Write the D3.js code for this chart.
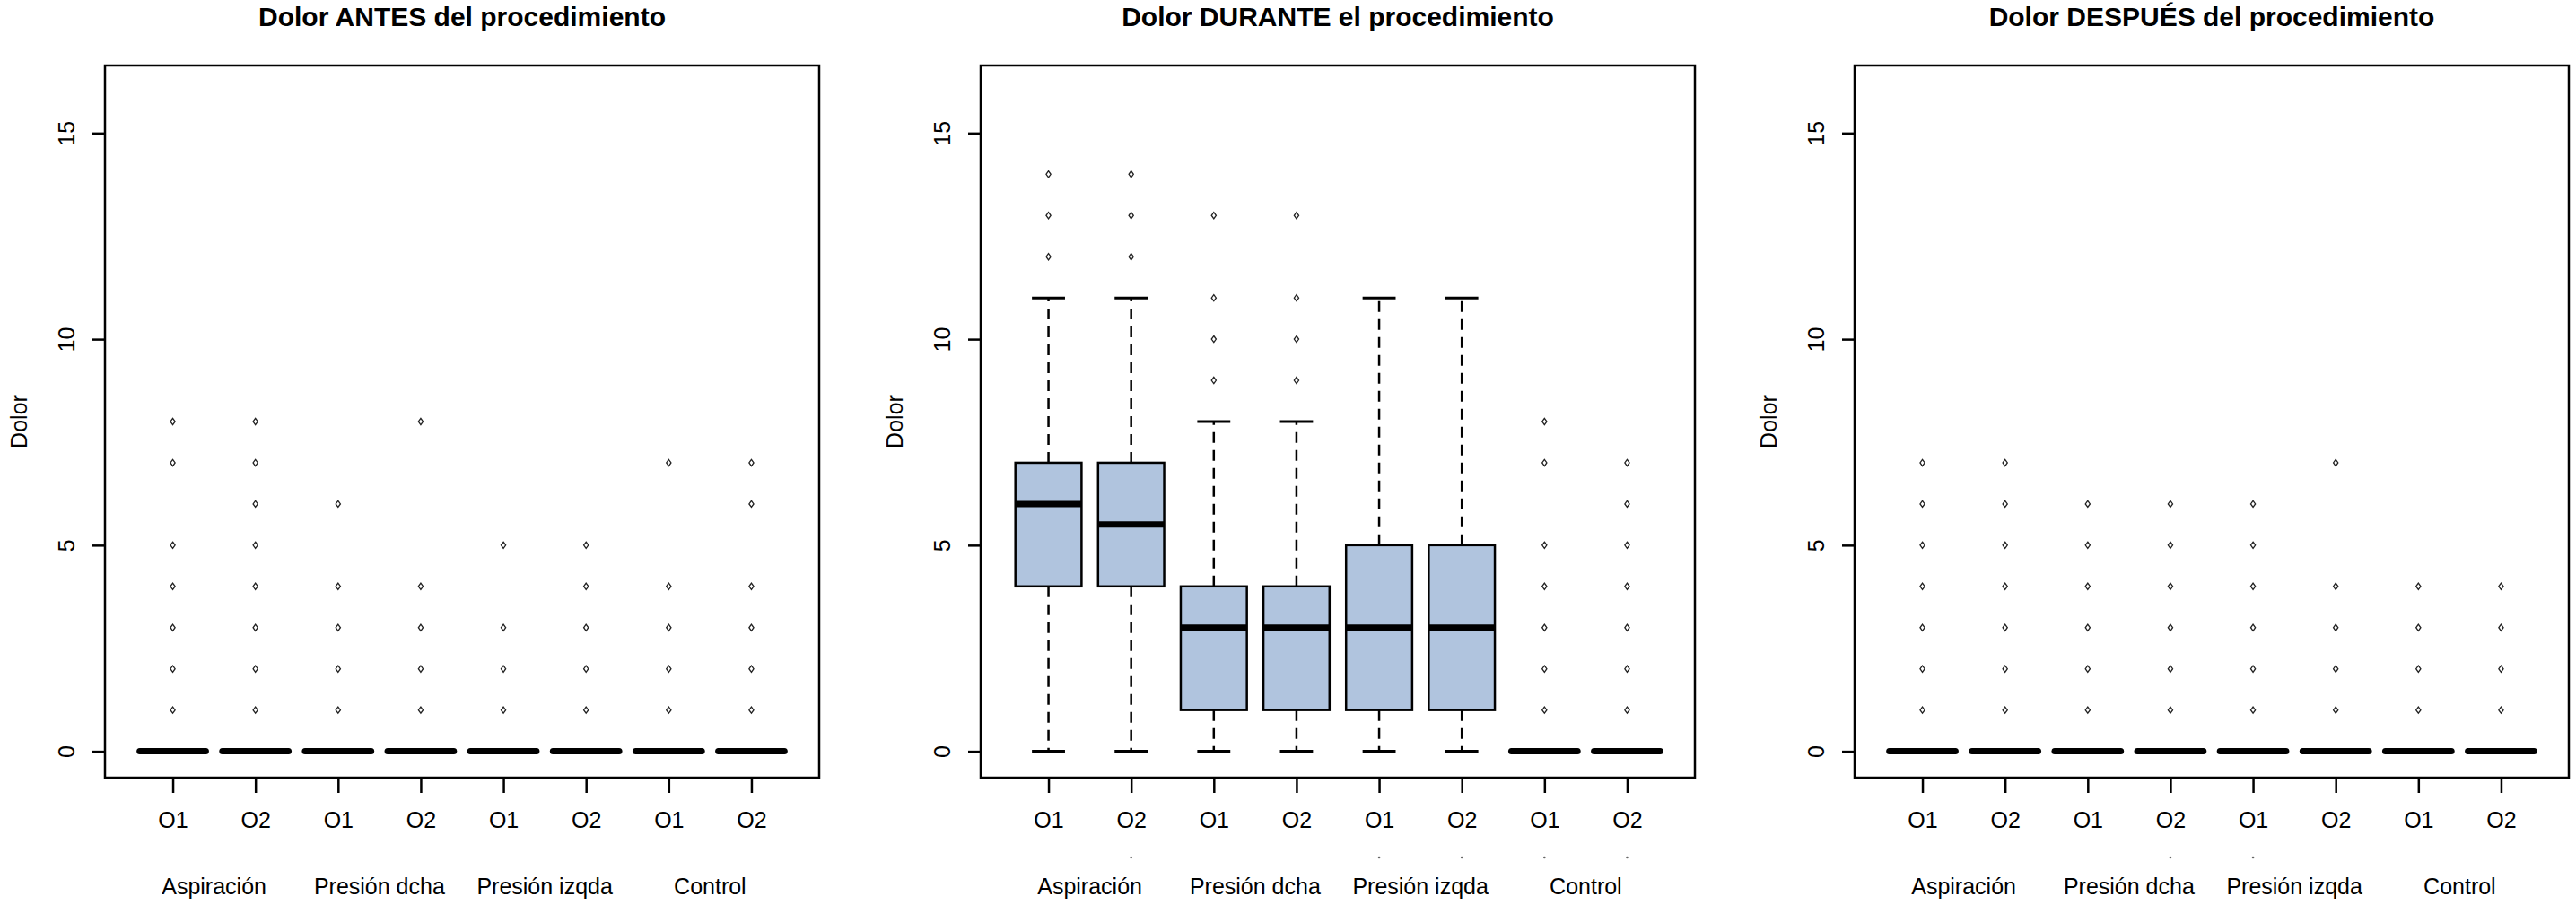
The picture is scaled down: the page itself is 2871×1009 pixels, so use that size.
<!DOCTYPE html>
<html>
<head>
<meta charset="utf-8">
<script src="https://cdn.jsdelivr.net/npm/d3@7"></script>
<style>
  body { margin: 0; background: #fff; }
  text { font-family: "Liberation Sans", Arial, sans-serif; fill: #000; }
</style>
</head>
<body>
<script>
// ---- data ----
var categories = ["O1", "O2", "O1", "O2", "O1", "O2", "O1", "O2"];
var groups = ["Aspiración", "Presión dcha", "Presión izqda", "Control"];
var titles = ["Dolor ANTES del procedimiento", "Dolor DURANTE el procedimiento", "Dolor DESPUÉS del procedimiento"];
var yTicks = [0, 5, 10, 15];

// box stats: [lower whisker, q1, median, q3, upper whisker]
var antesStats = [[0,0,0,0,0],[0,0,0,0,0],[0,0,0,0,0],[0,0,0,0,0],[0,0,0,0,0],[0,0,0,0,0],[0,0,0,0,0],[0,0,0,0,0]];
var antesOutliers = [[1,2,3,4,5,7,8],[1,2,3,4,5,6,7,8],[1,2,3,4,6],[1,2,3,4,8],[1,2,3,5],[1,2,3,4,5],[1,2,3,4,7],[1,2,3,4,6,7]];

var duranteStats = [[0,4,6,7,11],[0,4,5.5,7,11],[0,1,3,4,8],[0,1,3,4,8],[0,1,3,5,11],[0,1,3,5,11],[0,0,0,0,0],[0,0,0,0,0]];
var duranteOutliers = [[12,13,14],[12,13,14],[9,10,11,13],[9,10,11,13],[],[],[1,2,3,4,5,7,8],[1,2,3,4,5,6,7]];

var despuesStats = [[0,0,0,0,0],[0,0,0,0,0],[0,0,0,0,0],[0,0,0,0,0],[0,0,0,0,0],[0,0,0,0,0],[0,0,0,0,0],[0,0,0,0,0]];
var despuesOutliers = [[1,2,3,4,5,6,7],[1,2,3,4,5,6,7],[1,2,3,4,5,6],[1,2,3,4,5,6],[1,2,3,4,5,6],[1,2,3,4,7],[1,2,3,4],[1,2,3,4]];

// little stray dots under some of the tick labels (category index 1..8)
var strayDots = [[], [2,5,6,7,8], [4,5]];

function init() {
    var W = 2871, H = 1009;
    var panelLeft = [117, 1093, 2067];
    var pw = 796;        // plot box width
    var top = 73, bottom = 867;
    var fontSize = 25;

    var svg = d3.select("body").append("svg")
        .attr("width", W)
        .attr("height", H);

    svg.append("rect").attr("width", W).attr("height", H).attr("fill", "#fff");

    var allStats = [antesStats, duranteStats, despuesStats];
    var allOut = [antesOutliers, duranteOutliers, despuesOutliers];

    // same y range on all three plots (ylim 0..16 plus R's 4% padding)
    var yScale = d3.scaleLinear()
        .domain([-0.64, 16.64])
        .range([bottom, top]);

    // small open diamond used for the outliers
    var diamond = "M0,-3.6L2.6,0L0,3.6L-2.6,0Z";

    for (var p = 0; p < 3; p++) {
        var left = panelLeft[p];
        var xScale = d3.scaleLinear()
            .domain([0.18, 8.82])   // 0.5..8.5 plus 4%
            .range([left, left + pw]);
        var g = svg.append("g");
        var stats = allStats[p];
        var outl = allOut[p];
        var boxW = xScale(0.8) - xScale(0);
        var capW = xScale(0.4) - xScale(0);

        //title
        g.append("text")
            .attr("x", left + pw / 2)
            .attr("y", 29)
            .attr("text-anchor", "middle")
            .attr("font-size", "30px")
            .attr("font-weight", "bold")
            .text(titles[p]);

        // boxes
        stats.forEach(function(s, i) {
            var cx = xScale(i + 1);
            var bg = g.append("g");
            // whiskers (dashed)
            bg.append("line")
                .attr("x1", cx).attr("x2", cx)
                .attr("y1", yScale(s[3])).attr("y2", yScale(s[4]))
                .attr("stroke", "#000").attr("stroke-width", 2.5)
                .attr("stroke-dasharray", "12,8");
            bg.append("line")
                .attr("x1", cx).attr("x2", cx)
                .attr("y1", yScale(s[1])).attr("y2", yScale(s[0]))
                .attr("stroke", "#000").attr("stroke-width", 2.5)
                .attr("stroke-dasharray", "12,8");
            // staples
            [s[0], s[4]].forEach(function(v) {
                bg.append("line")
                    .attr("x1", cx - capW / 2).attr("x2", cx + capW / 2)
                    .attr("y1", yScale(v)).attr("y2", yScale(v))
                    .attr("stroke", "#000").attr("stroke-width", 3);
            });
            // box
            bg.append("rect")
                .attr("x", cx - boxW / 2)
                .attr("y", yScale(s[3]))
                .attr("width", boxW)
                .attr("height", yScale(s[1]) - yScale(s[3]))
                .attr("fill", "#b0c4de")
                .attr("stroke", "#000")
                .attr("stroke-width", 2.5);
            // median
            bg.append("line")
                .attr("x1", cx - boxW / 2).attr("x2", cx + boxW / 2)
                .attr("y1", yScale(s[2])).attr("y2", yScale(s[2]))
                .attr("stroke", "#000").attr("stroke-width", 7)
                .attr("stroke-linecap", s[1] === s[3] ? "round" : "butt");
            // outliers
            bg.selectAll("path.out")
                .data(outl[i])
                .enter()
                .append("path")
                .attr("class", "out")
                .attr("d", diamond)
                .attr("transform", function(d) { return "translate(" + cx + "," + yScale(d) + ")"; })
                .attr("fill", "none")
                .attr("stroke", "#222")
                .attr("stroke-width", 1.3);
        });

        // plot frame
        g.append("rect")
            .attr("x", left).attr("y", top)
            .attr("width", pw).attr("height", bottom - top)
            .attr("fill", "none")
            .attr("stroke", "#000")
            .attr("stroke-width", 2.5);

        // y axis
        var yAxis = d3.axisLeft(yScale).tickValues(yTicks).tickSize(14);
        var ya = g.append("g")
            .attr("transform", "translate(" + left + ",0)")
            .call(yAxis);
        ya.select(".domain").remove();
        ya.selectAll("line").attr("stroke-width", 2.5);
        ya.selectAll("text")
            .attr("x", null).attr("dy", null)
            .attr("text-anchor", "middle")
            .attr("font-size", fontSize + "px")
            .attr("font-family", "Liberation Sans, Arial, sans-serif")
            .attr("transform", "translate(-34,0) rotate(-90)");

        // y label
        g.append("text")
            .attr("transform", "translate(" + (left - 87) + "," + ((top + bottom) / 2) + ") rotate(-90)")
            .attr("text-anchor", "middle")
            .attr("font-size", fontSize + "px")
            .text("Dolor");

        // x axis
        var xAxis = d3.axisBottom(xScale)
            .tickValues(d3.range(1, 9))
            .tickFormat(function(d) { return categories[d - 1]; })
            .tickSize(17)
            .tickPadding(21);
        var xa = g.append("g")
            .attr("transform", "translate(0," + bottom + ")")
            .call(xAxis);
        xa.select(".domain").remove();
        xa.selectAll("line").attr("stroke-width", 2.5);
        xa.selectAll("text")
            .attr("font-size", fontSize + "px")
            .attr("font-family", "Liberation Sans, Arial, sans-serif");

        // stray dots
        g.selectAll(".stray")
            .data(strayDots[p])
            .enter()
            .append("circle")
            .attr("class", "stray")
            .attr("cx", function(d) { return xScale(d); })
            .attr("cy", 956)
            .attr("r", 1.3)
            .attr("fill", "#666");

        // group labels
        g.selectAll(".grp")
            .data(groups)
            .enter()
            .append("text")
            .attr("class", "grp")
            .attr("x", function(d, i) { return xScale(2 * i + 1.5); })
            .attr("y", 997)
            .attr("text-anchor", "middle")
            .attr("font-size", fontSize + "px")
            .text(function(d) { return d; });
    }
}
window.onload = init;
</script>
</body>
</html>
